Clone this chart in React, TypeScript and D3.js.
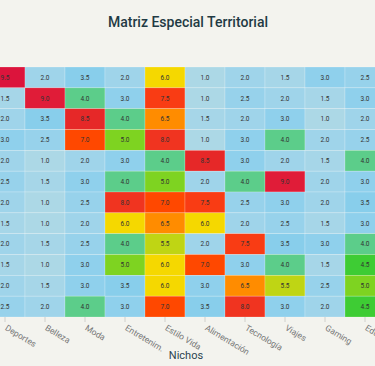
import React, { useEffect, useRef } from 'react'
import * as d3 from 'd3'

// nichos (columns) and territorios (rows)
const nichos = ['Deportes', 'Belleza', 'Moda', 'Entretenim.', 'Estilo Vida', 'Alimentación', 'Tecnología', 'Viajes', 'Gaming', 'Educación']
const territorios = ['T1', 'T2', 'T3', 'T4', 'T5', 'T6', 'T7', 'T8', 'T9', 'T10', 'T11', 'T12']

const valores = [
  [9.5, 2.0, 3.5, 2.0, 6.0, 1.0, 2.0, 1.5, 3.0, 2.5],
  [1.5, 9.0, 4.0, 3.0, 7.5, 1.0, 2.5, 2.0, 1.5, 3.0],
  [2.0, 3.5, 8.5, 4.0, 6.5, 1.5, 2.0, 3.0, 1.0, 2.0],
  [3.0, 2.5, 7.0, 5.0, 8.0, 1.0, 3.0, 4.0, 2.0, 2.5],
  [2.0, 1.0, 2.0, 3.0, 4.0, 8.5, 3.0, 2.0, 1.5, 4.0],
  [2.5, 1.5, 3.0, 4.0, 5.0, 2.0, 4.0, 9.0, 2.0, 3.0],
  [2.0, 1.0, 2.5, 8.0, 7.0, 7.5, 2.5, 3.0, 2.0, 3.5],
  [1.5, 1.0, 2.0, 6.0, 6.5, 6.0, 2.0, 2.5, 1.5, 3.0],
  [2.0, 1.5, 2.5, 4.0, 5.5, 2.0, 7.5, 3.5, 3.0, 4.0],
  [1.5, 1.0, 3.0, 5.0, 6.0, 7.0, 3.0, 4.0, 1.5, 4.5],
  [2.0, 1.5, 3.0, 3.5, 6.0, 3.0, 6.5, 5.5, 2.5, 5.0],
  [2.5, 2.0, 4.0, 3.0, 7.0, 3.5, 8.0, 3.0, 2.0, 4.5],
]

const niveles = [1.0, 1.5, 2.0, 2.5, 3.0, 3.5, 4.0, 4.5, 5.0, 5.5, 6.0, 6.5, 7.0, 7.5, 8.0, 8.5, 9.0, 9.5]
const colores = ['#acd8e6', '#a6d6e8', '#9fd4ea', '#97d2eb', '#8fd0ec', '#88ceeb', '#5ccd8a', '#3ecc34', '#7ed321', '#bfd514', '#f5d800', '#ff8c00', '#ff4800', '#f93c14', '#f03420', '#e62828', '#e01c38', '#dc143c']

const font = 'Roboto, Liberation Sans, sans-serif'

export default function App() {
  const ref = useRef<SVGSVGElement>(null)

  useEffect(() => {
    const width = 375, height = 366
    const svg = d3.select(ref.current)
    svg.selectAll('*').remove()

    svg.append('rect').attr('width', width).attr('height', height).attr('fill', '#f3f3ee')

    const x = d3.scaleBand().domain(nichos).range([-15, 385])
    const y = d3.scaleBand().domain(territorios).range([67, 317])
    const color = d3.scaleOrdinal<number, string>().domain(niveles).range(colores)

    const cells: { r: string; c: string; v: number }[] = []
    valores.forEach((row, i) => row.forEach((v, j) => cells.push({ r: territorios[i], c: nichos[j], v })))

    const g = svg.append('g')
    g.selectAll('rect.cell')
      .data(cells)
      .enter().append('rect')
      .attr('class', 'cell')
      .attr('x', d => x(d.c)!)
      .attr('y', d => y(d.r)!)
      .attr('width', x.bandwidth())
      .attr('height', y.bandwidth())
      .attr('fill', d => color(d.v))
      .attr('stroke', 'rgba(255,255,255,0.35)')
      .attr('stroke-width', 0.6)

    g.selectAll('text.val')
      .data(cells)
      .enter().append('text')
      .attr('class', 'val')
      .attr('x', d => x(d.c)! + x.bandwidth() / 2)
      .attr('y', d => y(d.r)! + y.bandwidth() / 2)
      .attr('dy', '0.35em')
      .attr('text-anchor', 'middle')
      .attr('font-family', font)
      .attr('font-size', 6.5)
      .attr('fill', '#333')
      .text(d => d.v.toFixed(1))

    const axis = svg.append('g')
      .attr('transform', 'translate(0,317)')
      .call(d3.axisBottom(x).tickSize(5).tickSizeOuter(0))
    axis.select('.domain').remove()
    axis.selectAll('.tick line').attr('stroke', '#d0d0cc')
    axis.selectAll('.tick text')
      .attr('font-family', font)
      .attr('font-size', 8.5)
      .attr('fill', '#777')
      .attr('text-anchor', 'start')
      .attr('x', 0)
      .attr('y', 0)
      .attr('dy', '0.35em')
      .attr('transform', 'translate(1,10) rotate(31)')

    svg.append('text')
      .attr('x', 186)
      .attr('y', 359)
      .attr('text-anchor', 'middle')
      .attr('font-family', font)
      .attr('font-size', 11)
      .attr('fill', '#2b4450')
      .text('Nichos')

    svg.append('text')
      .attr('x', 188)
      .attr('y', 27)
      .attr('text-anchor', 'middle')
      .attr('font-family', font)
      .attr('font-size', 14)
      .attr('font-weight', 500)
      .attr('fill', '#1f3a44')
      .text('Matriz Especial Territorial')
  }, [])

  return (
    <svg ref={ref} width={375} height={366} style={{ position: 'absolute', left: 0, top: 0, display: 'block' }} />
  )
}
